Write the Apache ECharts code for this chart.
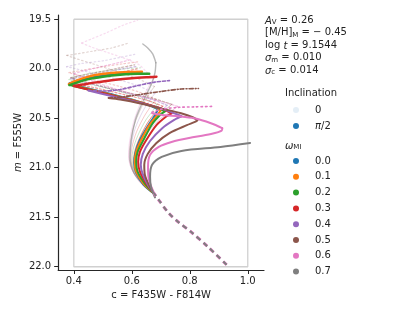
<!DOCTYPE html>
<html><head><meta charset="utf-8">
<script src="https://cdn.jsdelivr.net/npm/echarts@6/dist/echarts.min.js"></script>
<style>html,body{margin:0;padding:0;background:#fff}#c{width:415px;height:311px}</style>
</head><body><div id="c"></div>
<script>
// ---------- data ----------
const omegaLabels = ['0.0','0.1','0.2','0.3','0.4','0.5','0.6','0.7'];
const inclinationLabels = ['0','π/2'];
const xTicks = [0.4, 0.6, 0.8, 1.0];
const yTicks = [19.5, 20.0, 20.5, 21.0, 21.5, 22.0];
const boxC = [0.4, 1.0];
const boxM = [19.5, 22.0];
const annotLines = ['{i|A}{s|V} = 0.26', '[M/H]{s|M} = − 0.45', 'log {i|t} = 9.1544', '{i|σ}{s|m} = 0.010', '{i|σ}{s|c} = 0.014'];

// shared lower main sequence (c, m)
const msTrack = [[0.927,21.98],[0.863,21.80],[0.805,21.65],[0.761,21.55],[0.727,21.457],[0.693,21.326],[0.676,21.255]];

// inclination pi/2, one entry per omega
const edgeLower = [
 [[0.676,21.26],[0.64,21.17],[0.615,21.05],[0.608,20.95],[0.612,20.85],[0.628,20.72],[0.655,20.58],[0.68,20.47],[0.69,20.41]],
 [[0.676,21.26],[0.64,21.16],[0.615,21.04],[0.61,20.94],[0.615,20.84],[0.632,20.72],[0.66,20.57],[0.69,20.46],[0.70,20.42]],
 [[0.676,21.26],[0.645,21.16],[0.62,21.04],[0.615,20.94],[0.62,20.84],[0.64,20.72],[0.67,20.56],[0.70,20.46],[0.714,20.43]],
 [[0.676,21.26],[0.65,21.16],[0.628,21.04],[0.622,20.94],[0.628,20.84],[0.65,20.72],[0.685,20.57],[0.72,20.48],[0.737,20.45]],
 [[0.676,21.26],[0.655,21.17],[0.637,21.06],[0.631,20.97],[0.638,20.86],[0.663,20.73],[0.705,20.6],[0.75,20.51],[0.771,20.48]],
 [[0.676,21.26],[0.66,21.18],[0.645,21.07],[0.643,20.97],[0.655,20.86],[0.685,20.75],[0.73,20.65],[0.79,20.57],[0.82,20.535],[0.826,20.52]],
 [[0.676,21.25],[0.659,21.12],[0.656,20.99],[0.663,20.87],[0.693,20.79],[0.737,20.74],[0.815,20.69],[0.88,20.655],[0.91,20.625],[0.912,20.6]],
 [[0.68,21.3],[0.666,21.19],[0.663,21.09],[0.67,20.97],[0.703,20.89],[0.771,20.83],[0.906,20.79],[1.008,20.75]]
];
const edgeReturn = [
 [[0.69,20.41],[0.66,20.37],[0.6,20.31],[0.52,20.25],[0.45,20.2],[0.4,20.165],[0.385,20.15]],
 [[0.70,20.42],[0.67,20.375],[0.6,20.315],[0.52,20.255],[0.45,20.205],[0.4,20.17],[0.383,20.155]],
 [[0.714,20.43],[0.68,20.385],[0.6,20.32],[0.52,20.26],[0.45,20.21],[0.4,20.175],[0.385,20.165]],
 [[0.737,20.45],[0.7,20.4],[0.62,20.335],[0.54,20.275],[0.47,20.225],[0.42,20.19],[0.40,20.175]],
 [[0.771,20.48],[0.755,20.46],[0.72,20.42],[0.65,20.36],[0.58,20.31],[0.5,20.255],[0.45,20.22]],
 [[0.826,20.52],[0.81,20.49],[0.77,20.45],[0.7,20.4],[0.63,20.35],[0.56,20.31],[0.52,20.295]],
 [[0.912,20.6],[0.873,20.55],[0.815,20.5],[0.76,20.48],[0.713,20.47],[0.67,20.45]],
 []
];
const edgePost = [
 [[0.385,20.15],[0.41,20.125],[0.45,20.095],[0.5,20.07],[0.56,20.05],[0.62,20.04]],
 [[0.383,20.155],[0.41,20.12],[0.44,20.09],[0.47,20.065],[0.53,20.043],[0.6,20.032],[0.635,20.03]],
 [[0.385,20.165],[0.41,20.14],[0.45,20.105],[0.5,20.08],[0.56,20.06],[0.62,20.05],[0.66,20.05]],
 [[0.40,20.175],[0.43,20.16],[0.47,20.14],[0.53,20.115],[0.6,20.095],[0.65,20.085],[0.685,20.08]],
 [[0.45,20.22],[0.5,20.225],[0.56,20.21],[0.62,20.17],[0.68,20.135],[0.73,20.12]],
 [[0.52,20.295],[0.58,20.28],[0.64,20.255],[0.7,20.23],[0.77,20.205],[0.83,20.2]],
 [[0.67,20.44],[0.7,20.41],[0.76,20.39],[0.82,20.385],[0.88,20.38]],
 []
];
// inclination 0 (omega 0.0 coincides with pi/2)
const poleLower = [
 [],
 [[0.676,21.26],[0.638,21.16],[0.611,21.04],[0.603,20.94],[0.608,20.84],[0.625,20.71],[0.652,20.56],[0.68,20.44],[0.69,20.40]],
 [[0.676,21.26],[0.636,21.15],[0.608,21.03],[0.6,20.93],[0.604,20.82],[0.62,20.68],[0.648,20.52],[0.676,20.41],[0.687,20.36]],
 [[0.676,21.26],[0.634,21.15],[0.605,21.02],[0.597,20.91],[0.6,20.8],[0.616,20.64],[0.643,20.48],[0.67,20.36],[0.683,20.31]],
 [[0.676,21.26],[0.632,21.15],[0.602,21.02],[0.594,20.9],[0.597,20.78],[0.612,20.6],[0.638,20.43],[0.666,20.3],[0.68,20.25]],
 [[0.676,21.26],[0.63,21.15],[0.6,21.01],[0.591,20.89],[0.594,20.76],[0.608,20.57],[0.635,20.38],[0.663,20.24],[0.678,20.18]],
 [[0.676,21.26],[0.628,21.15],[0.597,21.0],[0.589,20.88],[0.592,20.74],[0.606,20.54],[0.632,20.33],[0.66,20.17],[0.675,20.1]],
 [[0.676,21.26],[0.64,21.17],[0.607,21.05],[0.594,20.9],[0.598,20.72],[0.612,20.52],[0.629,20.39],[0.653,20.245],[0.67,20.14],[0.68,20.04],[0.683,19.94]]
];
const poleReturn = [
 [],
 [[0.69,20.40],[0.65,20.35],[0.58,20.29],[0.5,20.23],[0.43,20.175],[0.385,20.14]],
 [[0.687,20.36],[0.64,20.3],[0.57,20.24],[0.5,20.19],[0.43,20.14],[0.383,20.11]],
 [[0.683,20.31],[0.63,20.24],[0.56,20.18],[0.48,20.12],[0.42,20.07],[0.383,20.04]],
 [[0.68,20.25],[0.62,20.17],[0.54,20.1],[0.46,20.04],[0.4,19.995],[0.375,19.98]],
 [[0.678,20.18],[0.62,20.1],[0.54,20.02],[0.46,19.945],[0.4,19.89],[0.376,19.865]],
 [[0.675,20.1],[0.65,20.03],[0.625,19.96],[0.58,19.9],[0.52,19.84],[0.46,19.78],[0.427,19.74]],
 [[0.683,19.94],[0.672,19.85],[0.655,19.79],[0.638,19.75]]
];
const polePost = [
 [],
 [[0.385,20.14],[0.42,20.1],[0.48,20.065],[0.55,20.04],[0.63,20.025]],
 [[0.383,20.11],[0.42,20.07],[0.48,20.035],[0.56,20.005],[0.63,19.99]],
 [[0.383,20.04],[0.43,20.015],[0.5,19.98],[0.57,19.95],[0.62,19.93]],
 [[0.375,19.98],[0.42,19.95],[0.5,19.92],[0.56,19.885],[0.61,19.855]],
 [[0.376,19.865],[0.41,19.85],[0.47,19.82],[0.53,19.79],[0.589,19.74]],
 [[0.427,19.74],[0.46,19.7],[0.51,19.64],[0.57,19.56],[0.62,19.51]],
 []
];
// intermediate inclination, omega 0.3 .. 0.6
const midOmegaIndex = [3, 4, 5, 6];
const midLower = [
 [[0.676,21.26],[0.642,21.15],[0.615,21.03],[0.608,20.93],[0.612,20.82],[0.63,20.68],[0.66,20.52],[0.693,20.41],[0.707,20.38]],
 [[0.676,21.26],[0.642,21.16],[0.617,21.04],[0.61,20.94],[0.615,20.83],[0.635,20.68],[0.67,20.52],[0.707,20.41],[0.722,20.37]],
 [[0.676,21.26],[0.645,21.16],[0.62,21.05],[0.613,20.95],[0.618,20.84],[0.64,20.68],[0.677,20.52],[0.718,20.41],[0.738,20.36]],
 [[0.676,21.26],[0.648,21.16],[0.625,21.05],[0.619,20.95],[0.624,20.84],[0.648,20.68],[0.688,20.53],[0.735,20.43],[0.758,20.38]]
];
const midReturn = [
 [[0.707,20.38],[0.66,20.325],[0.58,20.265],[0.5,20.21],[0.44,20.17],[0.395,20.13]],
 [[0.722,20.37],[0.67,20.31],[0.59,20.25],[0.51,20.19],[0.44,20.14],[0.39,20.1]],
 [[0.738,20.36],[0.68,20.305],[0.6,20.25],[0.52,20.195],[0.45,20.14],[0.39,20.09]],
 [[0.758,20.38],[0.7,20.33],[0.62,20.27],[0.54,20.2],[0.46,20.12],[0.4,20.05]]
];
const midPost = [
 [[0.395,20.13],[0.44,20.1],[0.5,20.065],[0.57,20.03],[0.62,20.0]],
 [[0.39,20.1],[0.43,20.08],[0.5,20.04],[0.57,20.0],[0.62,19.975]],
 [[0.39,20.09],[0.43,20.065],[0.5,20.025],[0.56,19.99],[0.61,19.96]],
 [[0.4,20.05],[0.43,20.025],[0.5,19.975],[0.56,19.935],[0.6,19.905]]
];

// ---------- styles ----------
const palette = ['#1f77b4','#ff7f0e','#2ca02c','#d62728','#9467bd','#8c564b','#e377c2','#7f7f7f'];
const FONT = 'DejaVu Sans';
const series = [];
function addTrack(data, color, w, type, op, z) {
  if (!data || !data.length) return;
  series.push({type:'line', data, symbol:'none', showSymbol:false, smooth:0.3, silent:true,
    lineStyle:{color, width:w, type, opacity:op, cap:'round'}, z, animation:false});
}
// box
series.push({type:'line', data:[[boxC[0],boxM[0]],[boxC[1],boxM[0]],[boxC[1],boxM[1]],[boxC[0],boxM[1]],[boxC[0],boxM[0]]],
  symbol:'none', silent:true, lineStyle:{color:'#d0d0d0', width:1.3}, z:1, animation:false});
// pole-on
for (let k = 1; k < 8; k++) {
  const op = k === 7 ? 0.55 : 0.25;
  addTrack(poleLower[k], palette[k], k===7?1.4:1, 'solid', op, 2);
  addTrack(poleReturn[k], palette[k], k===7?1.4:1.2, k===7?'solid':[1.5,2.5], op, 2);
  addTrack(polePost[k], palette[k], 1.2, [1.5,2.5], op, 2);
}
// intermediate
midOmegaIndex.forEach((k, j) => {
  addTrack(midLower[j], palette[k], 1, 'solid', 0.45, 3);
  addTrack(midReturn[j], palette[k], 1.2, [2,2], 0.45, 3);
  addTrack(midPost[j], palette[k], 1.2, [2,2], 0.45, 3);
});
// edge-on
const postTypes = ['solid','solid','solid','solid',[3,2],[4,2,1,2],[1.5,3]];
for (let k = 0; k < 8; k++) {
  addTrack(edgeLower[k], palette[k], 2, 'solid', 1, 4);
  addTrack(edgeReturn[k], palette[k], 2, 'solid', 1, 4);
  addTrack(edgePost[k], palette[k], k <= 3 ? 2.5 : 1.6, postTypes[k], 1, 4);
}
// main sequence (sparse points -> dashed)
series.push({type:'line', data:msTrack, symbol:'none', silent:true, smooth:0.3,
  lineStyle:{color:palette[6], width:3, type:[5,4]}, z:5, animation:false});
series.push({type:'line', data:msTrack, symbol:'none', silent:true, smooth:0.3,
  lineStyle:{color:palette[7], width:2, type:[5,4]}, z:6, animation:false});

// ---------- legend & annotation graphics ----------
const graphics = [];
const richSub = {i:{fontStyle:'italic', fontSize:10, fontFamily:FONT, lineHeight:12, verticalAlign:'bottom'},
  s:{fontSize:7, fontFamily:FONT, lineHeight:6, verticalAlign:'bottom'}};
annotLines.forEach((t, j) => {
  graphics.push({type:'text', left:265, top:14 + 12.5*j, style:{text:t, fontSize:10, fontFamily:FONT, fill:'#222',
    lineHeight:12, verticalAlign:'bottom', rich:richSub}});
});
graphics.push({type:'text', x:285, y:93, style:{text:'Inclination', fontSize:10, fontFamily:FONT, fill:'#222', verticalAlign:'middle'}});
inclinationLabels.forEach((t, j) => {
  const y = 110 + 16*j;
  graphics.push({type:'circle', shape:{cx:296, cy:y, r:3}, style:{fill:palette[0], opacity: j===0?0.12:1}});
  graphics.push({type:'text', x:315, y, style:{text: j===1 ? '{i|π}/2' : t, fontSize:10, fontFamily:FONT, fill:'#222', verticalAlign:'middle', rich:{i:{fontStyle:'italic', fontSize:10, fontFamily:FONT}}}});
});
graphics.push({type:'text', left:285, top:141, style:{text:'{i|ω}{s|MI}', fontSize:10, fontFamily:FONT, fill:'#222', rich:richSub}});
omegaLabels.forEach((t, k) => {
  const y = 161 + 15.8*k;
  graphics.push({type:'circle', shape:{cx:296, cy:y, r:3}, style:{fill:palette[k]}});
  graphics.push({type:'text', x:315, y, style:{text:t, fontSize:10, fontFamily:FONT, fill:'#222', verticalAlign:'middle'}});
});

const axisCol = '#262626';
const option = {
  backgroundColor:'#fff',
  animation:false,
  grid:{left:54, top:15, width:210, height:255, containLabel:false},
  xAxis:{type:'value', min:0.346, max:1.056,
    axisLine:{show:true, onZero:false, lineStyle:{color:axisCol, width:1.2}},
    axisTick:{show:true, customValues:xTicks, length:4, lineStyle:{color:axisCol}},
    axisLabel:{customValues:xTicks, formatter:v=>v.toFixed(1), color:'#222', fontSize:10, fontFamily:FONT, margin:6},
    splitLine:{show:false},
    name:'c = F435W - F814W', nameLocation:'middle', nameGap:19,
    nameTextStyle:{color:'#222', fontSize:10, fontFamily:FONT}},
  yAxis:{type:'value', inverse:true, min:19.457, max:22.033,
    axisLine:{show:true, onZero:false, lineStyle:{color:axisCol, width:1.2}},
    axisTick:{show:true, customValues:yTicks, length:4, lineStyle:{color:axisCol}},
    axisLabel:{customValues:yTicks, formatter:v=>v.toFixed(1), color:'#222', fontSize:10, fontFamily:FONT, margin:7},
    splitLine:{show:false},
    name:'{i|m} = F555W', nameLocation:'middle', nameGap:35, nameRotate:90,
    nameTextStyle:{color:'#222', fontSize:10, fontFamily:FONT, rich:{i:{fontStyle:'italic', fontSize:10, fontFamily:FONT}}}},
  series,
  graphic:graphics
};
const chart = echarts.init(document.getElementById('c'), null, {renderer:'canvas'});
chart.setOption(option);
</script></body></html>
